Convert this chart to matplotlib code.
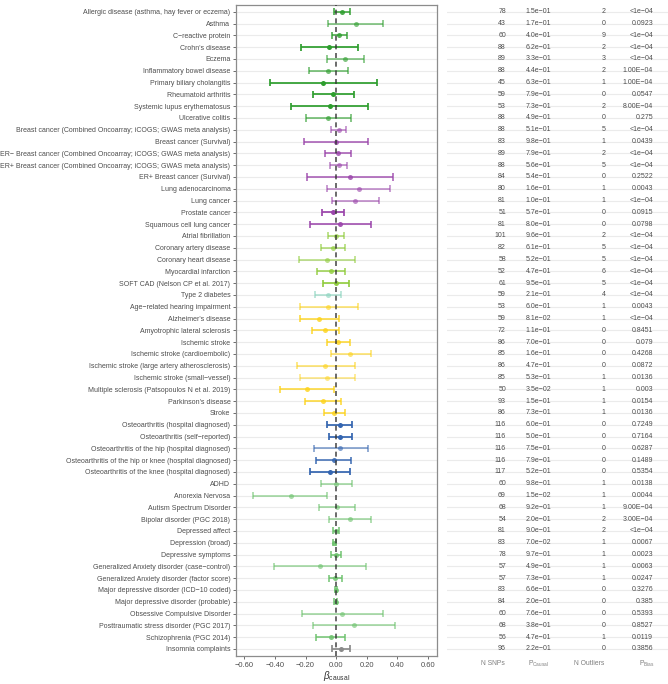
import matplotlib
matplotlib.use("Agg")
import matplotlib.pyplot as plt
from matplotlib.colors import to_rgba

plt.rcParams['font.family'] = ['Liberation Sans', 'DejaVu Sans']
plt.rcParams['mathtext.fontset'] = 'custom'
plt.rcParams['mathtext.rm'] = 'Liberation Sans'
plt.rcParams['mathtext.it'] = 'Liberation Sans:italic'

labels = [
    "Allergic disease (asthma, hay fever or eczema)", "Asthma", "C\u2212reactive protein",
    "Crohn's disease", "Eczema", "Inflammatory bowel disease", "Primary biliary cholangitis",
    "Rheumatoid arthritis", "Systemic lupus erythematosus", "Ulcerative colitis",
    "Breast cancer (Combined Oncoarray; iCOGS; GWAS meta analysis)", "Breast cancer (Survival)",
    "ER\u2212 Breast cancer (Combined Oncoarray; iCOGS; GWAS meta analysis)",
    "ER+ Breast cancer (Combined Oncoarray; iCOGS; GWAS meta analysis)",
    "ER+ Breast cancer (Survival)", "Lung adenocarcinoma", "Lung cancer", "Prostate cancer",
    "Squamous cell lung cancer", "Atrial fibrillation", "Coronary artery disease",
    "Coronary heart disease", "Myocardial infarction", "SOFT CAD (Nelson CP et al. 2017)",
    "Type 2 diabetes", "Age\u2212related hearing impairment", "Alzheimer's disease",
    "Amyotrophic lateral sclerosis", "Ischemic stroke", "Ischemic stroke (cardioembolic)",
    "Ischemic stroke (large artery atherosclerosis)", "Ischemic stroke (small\u2212vessel)",
    "Multiple sclerosis (Patsopoulos N et al. 2019)", "Parkinson's disease", "Stroke",
    "Osteoarthritis (hospital diagnosed)", "Osteoarthritis (self\u2212reported)",
    "Osteoarthritis of the hip (hospital diagnosed)",
    "Osteoarthritis of the hip or knee (hospital diagnosed)",
    "Osteoarthritis of the knee (hospital diagnosed)", "ADHD", "Anorexia Nervosa",
    "Autism Spectrum Disorder", "Bipolar disorder (PGC 2018)", "Depressed affect",
    "Depression (broad)", "Depressive symptoms", "Generalized Anxiety disorder (case\u2212control)",
    "Generalized Anxiety disorder (factor score)", "Major depressive disorder (ICD\u221210 coded)",
    "Major depressive disorder (probable)", "Obsessive Compulsive Disorder",
    "Posttraumatic stress disorder (PGC 2017)", "Schizophrenia (PGC 2014)", "Insomnia complaints",
]

beta = [0.037, 0.128, 0.022, -0.046, 0.061, -0.052, -0.085, -0.020, -0.043, -0.052,
        0.017, -0.002, 0.011, 0.017, 0.089, 0.148, 0.126, -0.022, 0.026,
        0.000, -0.022, -0.061, -0.035, -0.002, -0.052,
        -0.050, -0.113, -0.074, 0.015, 0.093, -0.070, -0.057, -0.191, -0.087, -0.011,
        0.024, 0.026, 0.028, -0.015, -0.041,
        0.000, -0.298, 0.007, 0.091, 0.000, -0.011, 0.002, -0.104, -0.009, 0.000, -0.004,
        0.041, 0.117, -0.035, 0.033]
ci_low = [-0.013, -0.054, -0.028, -0.228, -0.061, -0.180, -0.433, -0.150, -0.293, -0.200,
          -0.033, -0.211, -0.074, -0.037, -0.191, -0.059, -0.024, -0.091, -0.172,
          -0.050, -0.098, -0.241, -0.128, -0.087, -0.137,
          -0.239, -0.239, -0.159, -0.061, -0.035, -0.257, -0.237, -0.370, -0.204, -0.078,
          -0.061, -0.048, -0.146, -0.133, -0.170,
          -0.100, -0.541, -0.109, -0.046, -0.022, -0.022, -0.033, -0.404, -0.048, -0.007, -0.013,
          -0.224, -0.148, -0.130, -0.024]
ci_high = [0.089, 0.309, 0.070, 0.141, 0.183, 0.080, 0.267, 0.115, 0.209, 0.098,
           0.067, 0.209, 0.100, 0.074, 0.370, 0.352, 0.278, 0.050, 0.226,
           0.054, 0.059, 0.122, 0.059, 0.083, 0.030,
           0.141, 0.017, 0.017, 0.089, 0.226, 0.122, 0.122, -0.013, 0.035, 0.057,
           0.107, 0.102, 0.207, 0.100, 0.089,
           0.102, -0.057, 0.122, 0.230, 0.020, -0.002, 0.035, 0.196, 0.039, 0.009, 0.004,
           0.304, 0.383, 0.059, 0.089]

n_snps = [78, 43, 60, 88, 89, 88, 45, 59, 53, 88, 88, 83, 89, 88, 84, 80, 81, 51, 81,
          101, 82, 58, 52, 61, 59, 53, 59, 72, 86, 85, 86, 85, 50, 93, 86,
          116, 116, 116, 116, 117, 60, 69, 68, 54, 81, 83, 78, 57, 57, 83, 84, 60, 68, 56, 96]
p_causal = ["1.5e\u221201", "1.7e\u221201", "4.0e\u221201", "6.2e\u221201", "3.3e\u221201",
            "4.4e\u221201", "6.3e\u221201", "7.9e\u221201", "7.3e\u221201", "4.9e\u221201",
            "5.1e\u221201", "9.8e\u221201", "7.9e\u221201", "5.6e\u221201", "5.4e\u221201",
            "1.6e\u221201", "1.0e\u221201", "5.7e\u221201", "8.0e\u221201", "9.6e\u221201",
            "6.1e\u221201", "5.2e\u221201", "4.7e\u221201", "9.5e\u221201", "2.1e\u221201",
            "6.0e\u221201", "8.1e\u221202", "1.1e\u221201", "7.0e\u221201", "1.6e\u221201",
            "4.7e\u221201", "5.3e\u221201", "3.5e\u221202", "1.5e\u221201", "7.3e\u221201",
            "6.0e\u221201", "5.0e\u221201", "7.5e\u221201", "7.9e\u221201", "5.2e\u221201",
            "9.8e\u221201", "1.5e\u221202", "9.2e\u221201", "2.0e\u221201", "9.0e\u221201",
            "7.0e\u221202", "9.7e\u221201", "4.9e\u221201", "7.3e\u221201", "6.6e\u221201",
            "2.0e\u221201", "7.6e\u221201", "3.8e\u221201", "4.7e\u221201", "2.2e\u221201"]
n_outliers = [2, 0, 9, 2, 3, 2, 1, 0, 2, 0, 5, 1, 2, 5, 0, 1, 1, 0, 0,
              2, 5, 5, 6, 5, 4, 1, 1, 0, 0, 0, 0, 1, 1, 1, 1,
              0, 0, 0, 0, 0, 1, 1, 1, 2, 2, 1, 1, 1, 1, 0, 0, 0, 0, 1, 0]
p_bias = ["<1e\u221204", "0.0923", "<1e\u221204", "<1e\u221204", "<1e\u221204", "1.00E\u221204",
          "1.00E\u221204", "0.0547", "8.00E\u221204", "0.275", "<1e\u221204", "0.0439",
          "<1e\u221204", "<1e\u221204", "0.2522", "0.0043", "<1e\u221204", "0.0915", "0.0798",
          "<1e\u221204", "<1e\u221204", "<1e\u221204", "<1e\u221204", "<1e\u221204", "<1e\u221204",
          "0.0043", "<1e\u221204", "0.8451", "0.079", "0.4268", "0.0872", "0.0136", "0.003",
          "0.0154", "0.0136", "0.7249", "0.7164", "0.6287", "0.1489", "0.5354",
          "0.0138", "0.0044", "9.00E\u221204", "3.00E\u221204", "<1e\u221204", "0.0067",
          "0.0023", "0.0063", "0.0247", "0.3276", "0.385", "0.5393", "0.8527", "0.0119", "0.3856"]

group = (["immune"] * 10 + ["cancer"] * 9 + ["cardio"] * 5 + ["diabetes"] +
         ["neuro"] * 10 + ["oa"] * 5 + ["psych"] * 14 + ["sleep"])
group_colors = {"immune": "#2e9e2e", "cancer": "#9b45ab", "cardio": "#8fcc3a",
                "diabetes": "#8ed5c0", "neuro": "#fdd31a", "oa": "#3465b0",
                "psych": "#6cc26c", "sleep": "#8a8a8a"}
shade = [0.85, 0.6, 0.8, 1.0, 0.6, 0.65, 1.0, 1.0, 1.0, 0.65,
         0.6, 0.8, 0.8, 0.6, 0.8, 0.6, 0.6, 1.0, 0.9,
         0.65, 0.65, 0.6, 0.8, 0.95, 0.65,
         0.6, 0.8, 0.8, 0.8, 0.6, 0.6, 0.5, 0.8, 0.8, 0.8,
         1.0, 1.0, 0.6, 0.85, 1.0,
         0.6, 0.6, 0.6, 0.6, 0.85, 0.85, 0.85, 0.6, 0.85, 0.85, 0.85, 0.6, 0.6, 0.85, 1.0]

W, H = 668, 684
fig = plt.figure(figsize=(W / 100, H / 100), dpi=100)
ax = fig.add_axes([236 / W, 1 - 656 / H, (437 - 236) / W, (656 - 4.7) / H])
tab = fig.add_axes([447 / W, 1 - 656 / H, (668 - 447) / W, (656 - 4.7) / H])

n = len(labels)
ys = list(range(n))
txt_col = "#4d4d4d"
fs = 5.0
cap = 0.3
for i in ys:
    ax.axhline(i, color="#ebebeb", lw=0.8, zorder=0)
    tab.axhline(i, color="#ebebeb", lw=0.8, zorder=0)
    c = to_rgba(group_colors[group[i]], shade[i])
    ax.hlines(i, ci_low[i], ci_high[i], color=c, lw=1.25, zorder=3)
    ax.vlines([ci_low[i], ci_high[i]], i - cap, i + cap, color=c, lw=1.25, zorder=3)
    ax.plot(beta[i], i, "o", color=c, markersize=3.6, markeredgewidth=0, zorder=3)
ax.axvline(0, color="#333333", lw=1.2, ls=(0, (3, 2.2)), zorder=4, alpha=0.85)

ax.set_ylim(n - 1 + 0.6, -0.6)
ax.set_xlim(-0.655, 0.66)
ax.set_yticks(ys)
ax.set_yticklabels(labels, fontsize=fs, color=txt_col)
xt = [-0.6, -0.4, -0.2, 0.0, 0.2, 0.4, 0.6]
ax.set_xticks(xt)
ax.set_xticklabels(["\u2212%.2f" % abs(v) if v < 0 else "%.2f" % v for v in xt],
                   fontsize=5.4, color=txt_col)
ax.tick_params(axis="both", length=2.5, width=0.6, color="#555555", pad=1.5)
for s in ax.spines.values():
    s.set_color("#8c8c8c")
    s.set_linewidth(0.9)
ax.set_xlabel(r"$\beta_{\mathrm{causal}}$", fontsize=7, color="#333333", labelpad=0.5)

tab.set_xlim(447, 668)
tab.set_ylim(n - 1 + 0.6, -0.6)
tab.axis("off")
for i in ys:
    tab.text(506, i, str(n_snps[i]), ha="right", va="center", fontsize=fs, color=txt_col)
    tab.text(538.5, i, p_causal[i], ha="center", va="center", fontsize=fs, color=txt_col)
    tab.text(605.5, i, str(n_outliers[i]), ha="right", va="center", fontsize=fs, color=txt_col)
    tab.text(653, i, p_bias[i], ha="right", va="center", fontsize=fs, color=txt_col)

hy = 55.25
hfs = 4.9
tab.text(493, hy, "N SNPs", ha="center", va="center", fontsize=hfs, color="#7f7f7f", clip_on=False)
tab.text(539, hy, r"P$_{\mathrm{Causal}}$", ha="center", va="center", fontsize=hfs,
         color="#7f7f7f", clip_on=False)
tab.text(589, hy, "N Outliers", ha="center", va="center", fontsize=hfs, color="#7f7f7f", clip_on=False)
tab.text(647, hy, r"P$_{\mathrm{Bias}}$", ha="center", va="center", fontsize=hfs,
         color="#7f7f7f", clip_on=False)

fig.savefig("out.png", dpi=100, facecolor="white")
